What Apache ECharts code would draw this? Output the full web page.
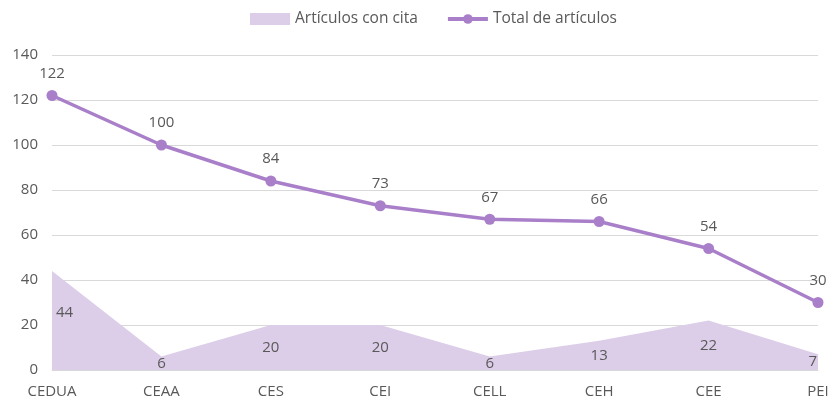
<!DOCTYPE html>
<html><head><meta charset="utf-8">
<script src="https://cdn.jsdelivr.net/npm/echarts@6/dist/echarts.min.js"></script>
<style>html,body{margin:0;padding:0;background:#fff}#c{width:832px;height:404px}</style>
</head><body><div id="c"></div>
<script>
const categories = ['CEDUA','CEAA','CES','CEI','CELL','CEH','CEE','PEI'];
const articulosConCita = [44, 6, 20, 20, 6, 13, 22, 7];
const totalArticulos = [122, 100, 84, 73, 67, 66, 54, 30];
const yTicks = [0, 20, 40, 60, 80, 100, 120, 140];

const FONT = 'Open Sans';
const TXT = '#595959';
const n = categories.length;
const chart = echarts.init(document.getElementById('c'), null, {renderer: 'canvas'});

// label anchors placed at the vertical centre of the area (Excel "center" labels)
const citaLabelPoints = articulosConCita.map((v, i) => ({
  value: [i, v / 2],
  label: {
    formatter: String(v),
    align: i === 0 ? 'left' : (i === n - 1 ? 'right' : 'center'),
    offset: i === 0 ? [4, -8] : (i === n - 1 ? [-1, 0] : [0, 0])
  }
}));

chart.setOption({
  animation: false,
  textStyle: {fontFamily: FONT},
  legend: {
    top: 6, left: 245, itemGap: 28, itemWidth: 40, itemHeight: 12,
    textStyle: {fontFamily: FONT, fontSize: 15.5, color: TXT},
    data: [
      {name: 'Artículos con cita', icon: 'rect'},
      {name: 'Total de artículos', lineStyle: {width: 4}}
    ]
  },
  grid: {left: 52, right: 14, top: 55, bottom: 34, containLabel: false},
  xAxis: {
    type: 'category', data: categories, boundaryGap: false,
    axisLine: {lineStyle: {color: '#d9d9d9'}},
    axisTick: {show: false},
    axisLabel: {fontFamily: FONT, fontSize: 15, color: TXT, margin: 14},
    splitLine: {show: false}
  },
  yAxis: {
    type: 'value', min: yTicks[0], max: yTicks[yTicks.length-1], interval: 20,
    axisLine: {show: false}, axisTick: {show: false},
    axisLabel: {fontFamily: FONT, fontSize: 15, color: TXT, margin: 14, align: 'right'},
    splitLine: {lineStyle: {color: '#d9d9d9', width: 1}}
  },
  series: [
    {
      name: 'Artículos con cita', type: 'line', data: articulosConCita,
      symbol: 'none', showSymbol: false, z: 3,
      lineStyle: {width: 0, color: '#dccde8'},
      itemStyle: {color: '#dccde8'},
      areaStyle: {color: '#dccde8', opacity: 1}
    },
    {
      name: 'citaLabels', type: 'scatter', data: citaLabelPoints,
      symbolSize: 1, z: 4, silent: true, legendHoverLink: false,
      itemStyle: {color: 'rgba(0,0,0,0)', opacity: 1},
      emphasis: {disabled: true},
      label: {show: true, position: 'inside', fontFamily: FONT, fontSize: 15,
              color: TXT, opacity: 1, textBorderWidth: 0}
    },
    {
      name: 'Total de artículos', type: 'line', data: totalArticulos,
      symbol: 'circle', symbolSize: 11, z: 5,
      lineStyle: {width: 3.5, color: '#a97fca'},
      itemStyle: {color: '#a97fca'},
      label: {show: true, position: 'top', distance: 9, fontFamily: FONT, fontSize: 15, color: TXT}
    }
  ]
});
</script></body></html>
